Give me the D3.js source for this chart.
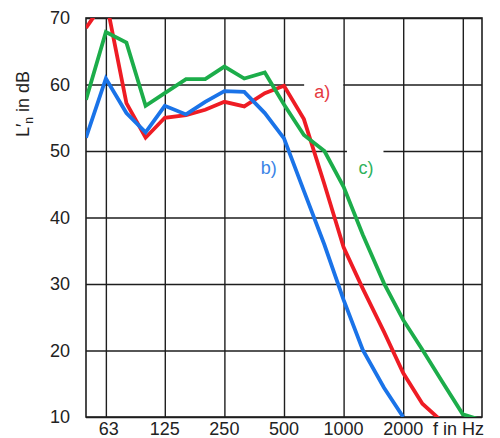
<!DOCTYPE html>
<html>
<head>
<meta charset="utf-8">
<script src="https://cdn.jsdelivr.net/npm/d3@7"></script>
<style>
  html, body { margin: 0; padding: 0; background: #fff; }
  svg { display: block; font-family: "Liberation Sans", Arial, sans-serif; }
</style>
</head>
<body>
<svg id="chart" width="500" height="438"></svg>
<script>
// Third-octave band centre frequencies (Hz)
const bands = [50, 63, 80, 100, 125, 160, 200, 250, 315, 400, 500, 630, 800, 1000, 1250, 1600, 2000, 2500, 3150, 4000, 5000];

// Series values (dB)
const seriesA = [68.5, 72.8, 57.2, 52.0, 55.0, 55.4, 56.2, 57.4, 56.7, 58.7, 59.8, 54.8, 45.0, 35.5, 29.3, 22.8, 16.6, 12.0, 9.3];
const seriesB = [52.0, 60.9, 55.7, 52.8, 56.8, 55.5, 57.4, 59.0, 58.9, 55.7, 51.9, 44.0, 35.9, 27.6, 20.1, 14.4, 10.0];
const seriesC = [57.7, 67.9, 66.3, 56.8, 58.7, 60.8, 60.8, 62.7, 60.9, 61.8, 57.0, 52.4, 50.0, 44.6, 37.4, 30.1, 24.6, 20.1, 15.3, 10.4, 9.5];

const seriesNames = ["a)", "b)", "c)"];
const seriesColors = ["#ee1c24", "#1a73e8", "#1cad4a"];
const labelColors = ["#e5393f", "#3a84e6", "#2fb25c"];

// Axis ticks
const xTickValues = [63, 125, 250, 500, 1000, 2000];
const xGridValues = [63, 125, 250, 500, 1000, 2000, 4000];
const yTickValues = [10, 20, 30, 40, 50, 60, 70];

const svg = d3.select("#chart");
const margin = { left: 86, right: 18, top: 18, bottom: 21 };
const W = 500, H = 438;

const x = d3.scaleLog().domain([50, 5000]).range([margin.left, W - margin.right]);
const y = d3.scaleLinear().domain([10, 70]).range([H - margin.bottom, margin.top]);

const gridColor = "#1e1e1e";

// Horizontal grid lines
svg.append("g")
  .attr("transform", `translate(${margin.left},0)`)
  .call(d3.axisLeft(y).tickValues(yTickValues).tickSize(-(x.range()[1] - x.range()[0])).tickFormat(""))
  .call(g => g.select(".domain").remove())
  .call(g => g.selectAll(".tick line").attr("stroke", gridColor).attr("stroke-width", 1.4));

// Vertical grid lines
svg.append("g")
  .attr("transform", `translate(0,${y.range()[0]})`)
  .call(d3.axisBottom(x).tickValues(xGridValues).tickSize(-(y.range()[0] - y.range()[1])).tickFormat(""))
  .call(g => g.select(".domain").remove())
  .call(g => g.selectAll(".tick line").attr("stroke", gridColor).attr("stroke-width", 1.4));

// Gaps in the grid lines behind the labels a) and c)
const gaps = [
  { v: 60, f0: 632, f1: 995 },
  { v: 50, f0: 1040, f1: 1590 }
];
svg.append("g").selectAll("rect").data(gaps).join("rect")
  .attr("x", d => x(d.f0)).attr("width", d => x(d.f1) - x(d.f0))
  .attr("y", d => y(d.v) - 2).attr("height", 4)
  .attr("fill", "#fff");

// Frame
svg.append("rect")
  .attr("x", x.range()[0]).attr("y", y.range()[1])
  .attr("width", x.range()[1] - x.range()[0])
  .attr("height", y.range()[0] - y.range()[1])
  .attr("fill", "none").attr("stroke", gridColor).attr("stroke-width", 1.6);

// Clip path for curves
svg.append("clipPath").attr("id", "plotclip")
  .append("rect")
  .attr("x", x.range()[0]).attr("y", y.range()[1])
  .attr("width", x.range()[1] - x.range()[0])
  .attr("height", y.range()[0] - y.range()[1]);

const line = d3.line()
  .x((d, i) => x(bands[i]))
  .y(d => y(d));

const allSeries = [seriesA, seriesB, seriesC];
svg.append("g").attr("clip-path", "url(#plotclip)")
  .selectAll("path").data(allSeries).join("path")
  .attr("d", d => line(d))
  .attr("fill", "none")
  .attr("stroke", (d, i) => seriesColors[i])
  .attr("stroke-width", 3.8)
  .attr("stroke-linejoin", "miter")
  .attr("stroke-linecap", "butt");

// Series label anchors in data space (frequency, dB)
const labelFreq = [710, 382, 1190];
const labelLevel = [57.9, 46.6, 46.6];
svg.append("g").selectAll("text").data(seriesNames).join("text")
  .attr("x", (d, i) => x(labelFreq[i]))
  .attr("y", (d, i) => y(labelLevel[i]))
  .attr("fill", (d, i) => labelColors[i])
  .attr("font-size", 18)
  .text(d => d);

// Y tick labels
svg.append("g").selectAll("text").data(yTickValues).join("text")
  .attr("x", 70)
  .attr("y", d => y(d) + 6)
  .attr("text-anchor", "end")
  .attr("font-size", 18)
  .attr("fill", "#222")
  .text(d => d);

// X tick labels
svg.append("g").selectAll("text").data(xTickValues).join("text")
  .attr("x", d => x(d) + (d === 63 ? 3 : 0))
  .attr("y", 435)
  .attr("text-anchor", "middle")
  .attr("font-size", 18)
  .attr("fill", "#222")
  .text(d => d);

svg.append("text")
  .attr("x", 433).attr("y", 435)
  .attr("font-size", 18).attr("fill", "#222")
  .text("f in Hz");

// Y axis title
const yt = svg.append("text")
  .attr("transform", `translate(29,104) rotate(-90)`)
  .attr("text-anchor", "middle")
  .attr("font-size", 18)
  .attr("fill", "#222");
yt.append("tspan").text("L\u2032");
yt.append("tspan").attr("font-size", 12).attr("dy", 4).text("n");
yt.append("tspan").attr("dy", -4).text(" in dB");
</script>
</body>
</html>
